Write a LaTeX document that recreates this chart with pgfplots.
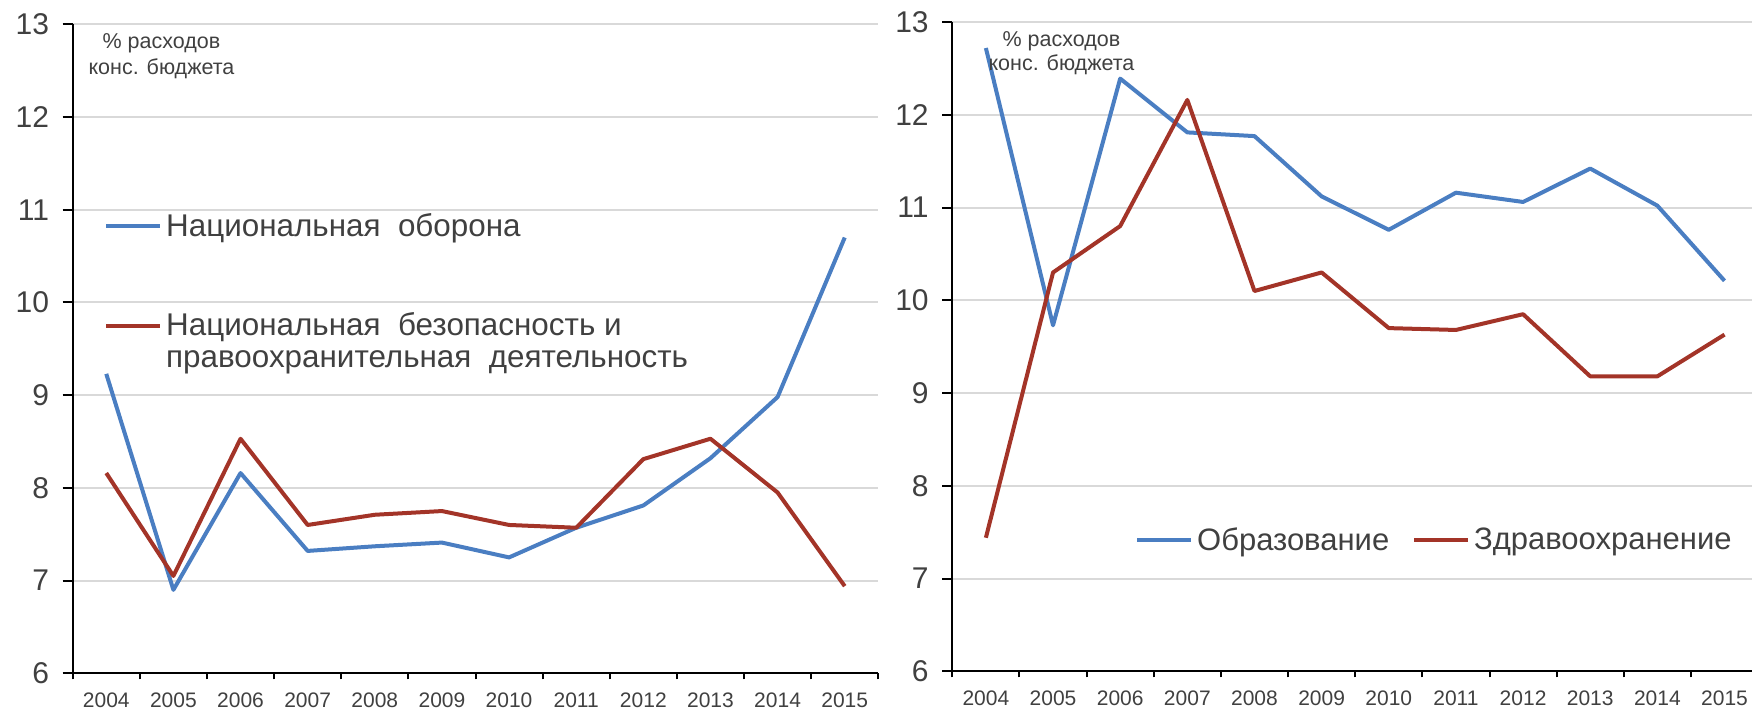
\documentclass[border=0pt]{standalone}
\usepackage{pgfplots}
\pgfplotsset{compat=1.18}
\usepackage{fontspec}
\setmainfont{Liberation Sans}
\definecolor{bl}{HTML}{4A7EC2}
\definecolor{rd}{HTML}{A33428}
\definecolor{gr}{HTML}{D9D9D9}
\definecolor{tx}{HTML}{404040}
\pgfplotsset{
 mybase/.style={
  scale only axis,
  xmin=-0.5, xmax=11.5, ymin=6, ymax=13,
  xtick={0,...,11},
  xticklabels={2004,2005,2006,2007,2008,2009,2010,2011,2012,2013,2014,2015},
  minor xtick={-0.5,0.5,...,11.5},
  ytick={6,...,13},
  ymajorgrids, major grid style={gr, line width=1pt},
  axis x line*=bottom, axis y line*=left,
  axis line style={-, black, line width=1pt},
  tick align=outside,
  tick style={black, line width=1pt},
  major x tick style={draw=none},
  major tick length=5pt, minor tick length=3pt,
  x tick label style={font=\fontsize{10.5}{12}\selectfont, text=tx, yshift=-1.2pt},
  y tick label style={font=\fontsize{15}{17}\selectfont, text=tx, xshift=-3.3pt},
  /pgf/number format/assume math mode=true,
  every axis plot/.append style={line width=2pt, line join=round},
  legend image code/.code={\draw[#1] (0pt,0pt) -- (27pt,0pt);},
 },
 redimg/.style={legend image code/.code={\draw[##1] (0pt,8pt) -- (27pt,8pt);}},
}
\begin{document}
\begin{tikzpicture}
\begin{axis}[mybase, at={(36.35pt,17.85pt)}, anchor=south west,
  width=402.8pt, height=324.5pt,
  legend style={draw=none, fill=none, inner sep=0pt,
    at={(0.0386,0.716)}, anchor=north west,
    font=\fontsize{15.7}{16}\selectfont, text=tx,
    row sep=32.9pt, cells={anchor=west, align=left}},
  legend cell align=left]
\addplot[bl] coordinates {(0,9.23) (1,6.90) (2,8.16) (3,7.32) (4,7.37) (5,7.41) (6,7.25) (7,7.57) (8,7.81) (9,8.32) (10,8.98) (11,10.70)};
\addlegendentry{Национальная~ оборона}
\addplot[rd, redimg] coordinates {(0,8.16) (1,7.05) (2,8.53) (3,7.60) (4,7.71) (5,7.75) (6,7.60) (7,7.57) (8,8.31) (9,8.53) (10,7.95) (11,6.94)};
\addlegendentry{Национальная~ безопасность и\\правоохранительная~ деятельность}
\end{axis}
\begin{axis}[mybase, at={(476.15pt,18.85pt)}, anchor=south west,
  width=402.9pt, height=324.65pt,
  legend columns=2,
  legend style={draw=none, fill=none, inner sep=0pt,
    at={(0.2264,0.202)}, anchor=west,
    font=\fontsize{15.5}{20}\selectfont, text=tx,
    /tikz/every even column/.append style={column sep=9.4pt}},
  legend cell align=left]
\addplot[bl] coordinates {(0,12.72) (1,9.73) (2,12.39) (3,11.81) (4,11.77) (5,11.12) (6,10.76) (7,11.16) (8,11.06) (9,11.42) (10,11.02) (11,10.21)};
\addlegendentry{Образование}
\addplot[rd] coordinates {(0,7.44) (1,10.30) (2,10.80) (3,12.16) (4,10.10) (5,10.30) (6,9.70) (7,9.68) (8,9.85) (9,9.18) (10,9.18) (11,9.63)};
\addlegendentry{Здравоохранение}
\end{axis}
\node[align=center, font=\fontsize{10.75}{13}\selectfont, text=tx] at (80.75pt,326.5pt) {\% расходов\\конс. бюджета};
\node[align=center, font=\fontsize{10.75}{12}\selectfont, text=tx] at (530.75pt,328pt) {\% расходов\\конс. бюджета};
\pgfresetboundingbox
\path (0,0) rectangle (876pt,354.5pt);
\end{tikzpicture}
\end{document}
